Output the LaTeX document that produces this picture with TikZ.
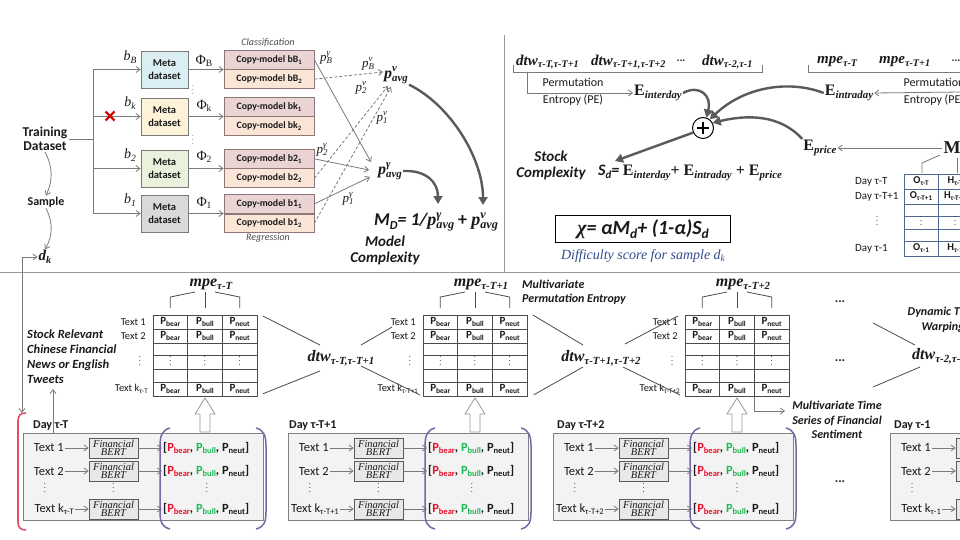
\documentclass[tikz,border=0pt]{standalone}
\usepackage{fontspec}
\setmainfont{Carlito}
\newfontfamily\tms{Liberation Serif}
\usetikzlibrary{arrows.meta,calc}
\makeatletter
\newcommand\SB[1]{\raisebox{-0.4ex}{\fontsize{\fpeval{0.68*\f@size}}{1}\selectfont #1}}
\newcommand\SP[1]{\raisebox{0.9ex}{\fontsize{\fpeval{0.68*\f@size}}{1}\selectfont #1}}
\makeatother
\newcommand\ssc[2]{\setbox0\hbox{\SP{#1}}\setbox2\hbox{\SB{#2}}\ifdim\wd0>\wd2 \rlap{\box2}\box0\else\rlap{\box0}\box2\fi}
\newcommand\fs[1]{\fontsize{#1}{#1}\selectfont}
\newcommand\vd{\raisebox{0pt}[0.8em][0pt]{$\vdots$}}
\definecolor{lnc}{HTML}{7A7A7A}
\definecolor{sepc}{HTML}{999999}
\definecolor{thkc}{HTML}{5A5A5A}
\definecolor{colMB}{HTML}{DAEEF3}
\definecolor{colMK}{HTML}{FEF2D8}
\definecolor{colMtwo}{HTML}{EAF1DD}
\definecolor{colMone}{HTML}{D9D9D9}
\definecolor{cmt}{HTML}{E9D3D3}
\definecolor{cmbf}{HTML}{FBE5D7}
\definecolor{cmd}{HTML}{8F7777}
\definecolor{pred}{HTML}{E8102A}
\definecolor{pgrn}{HTML}{1DB954}
\definecolor{purc}{HTML}{7767A8}
\definecolor{dblue}{HTML}{2F4C8C}
\definecolor{tblc}{HTML}{4E6A8E}
\definecolor{redx}{HTML}{D10A0A}
\definecolor{redb}{HTML}{E0506A}
\definecolor{dayf}{HTML}{F3F3F3}
\definecolor{bertf}{HTML}{E8E8E8}
\definecolor{txtc}{HTML}{1A1A1A}
\begin{document}
\begin{tikzpicture}[x=1pt,y=-1pt,
  every node/.style={text=txtc, inner sep=1pt},
  ln/.style={draw=lnc,line width=0.8pt},
  arr/.style={ln,-{Straight Barb[length=4pt,width=6pt]}},
  darr/.style={arr,dash pattern=on 3pt off 2pt},
  tharr/.style={draw=thkc,line width=2.4pt,-{Triangle[length=8pt,width=9pt]}},
  sepl/.style={draw=sepc,line width=1pt},
  meta/.style={draw=lnc,line width=0.8pt,minimum width=47pt,minimum height=37pt,align=center,font=\fontsize{10.5}{12.5}\selectfont\bfseries},
  cmbox/.style={draw=cmd,line width=0.8pt,minimum width=90pt,minimum height=18.5pt,inner sep=0pt,font=\fs{9.8}\bfseries},
  lbl/.style={font=\fs{14}\tms\itshape},
  phi/.style={font=\fs{14}\tms},
  plab/.style={font=\fs{13}\tms\itshape},
  pavg/.style={font=\fs{16}\tms\bfseries\itshape},
  serb/.style={font=\fs{16}\tms\bfseries\itshape},
  serbs/.style={font=\fs{15}\tms\bfseries\itshape},
  ebold/.style={font=\fs{16}\tms\bfseries},
  bi/.style={font=\fontsize{12}{14.5}\selectfont\bfseries\itshape,align=center},
  matl/.style={draw=black!70,line width=0.8pt},
  tbl/.style={draw=tblc,line width=0.8pt},
  pcell/.style={font=\fs{11}\bfseries},
  ocell/.style={font=\fs{10.5}\bfseries},
  rlab/.style={font=\fs{10.5}},
  dlab/.style={font=\fs{11}},
  vdot/.style={font=\fs{8}, inner sep=0pt},
  hollow/.style={draw=black!40,fill=white,line width=0.8pt},
  daybox/.style={draw=black!50,fill=dayf,line width=1pt,minimum width=240pt,minimum height=87pt,inner sep=0pt},
  bert/.style={draw=black!65,fill=bertf,line width=0.8pt,minimum width=49pt,minimum height=20pt,inner sep=0pt,align=center,font=\fontsize{10.5}{8.5}\selectfont\tms\itshape},
  dtxt/.style={font=\fs{12.5}},
  ptxt/.style={font=\fs{12.5}\bfseries},
  parc/.style={draw=purc,line width=1.5pt},
]
\useasboundingbox (0,0) rectangle (960,540);
\fill[white] (0,0) rectangle (960,540);
\begin{scope}
\clip (0,0) rectangle (960,540);
% separators
\draw[sepl] (504,35) -- (504,272);
\draw[sepl] (0,272) -- (960,272);

% ---------------- top left: model complexity
\node[font=\fontsize{13.5}{14.5}\selectfont\bfseries, align=center] (train) at (45,139) {Training\\Dataset};
\coordinate (trunk) at (93,139);
\draw[ln] (train.east) -- (trunk);
\draw[ln] (93,69.5) -- (93,213.5);
\node[meta, fill=colMB] (metaB) at (164.5,69.5) {Meta\\dataset};
\node[meta, fill=colMK] (metaK) at (164.5,116.5) {Meta\\dataset};
\node[meta, fill=colMtwo] (metaT) at (164.5,168.5) {Meta\\dataset};
\node[meta, fill=colMone] (metaO) at (164.5,213.5) {Meta\\dataset};
\coordinate (jB) at (93,69.5);
\coordinate (jK) at (93,116.5);
\coordinate (jT) at (93,168.5);
\coordinate (jO) at (93,213.5);
\draw[arr] (jB) -- (metaB);
\draw[arr] (jK) -- (metaK);
\draw[arr] (jT) -- (metaT);
\draw[arr] (jO) -- (metaO);
\draw[redx, line width=2.2pt] (105.5,111.5) -- (114.5,120.5) (105.5,120.5) -- (114.5,111.5);
\node[lbl] (lbB) at (130,57) {b\SB{B}};
\node[lbl] (lbK) at (130,103) {b\SB{k}};
\node[lbl] (lbT) at (130,155) {b\SB{2}};
\node[lbl] (lbO) at (130,200) {b\SB{1}};
\node[phi] (phB) at (204,61) {Φ\SB{B}};
\node[phi] (phK) at (204,106) {Φ\SB{k}};
\node[phi] (phT) at (204,157) {Φ\SB{2}};
\node[phi] (phO) at (204,203) {Φ\SB{1}};
\node[vdot, text=lnc] (vdA) at (193,91) {\vd};
\node[vdot, text=lnc] (vdB) at (193,141) {\vd};

\node[cmbox, fill=cmt, anchor=south] (cB1) at (269,69.5) {Copy-model bB\SB{1}};
\node[cmbox, fill=cmbf, anchor=north] (cB2) at (269,69.5) {Copy-model bB\SB{2}};
\node[cmbox, fill=cmt, anchor=south] (cK1) at (269,116.5) {Copy-model bk\SB{1}};
\node[cmbox, fill=cmbf, anchor=north] (cK2) at (269,116.5) {Copy-model bk\SB{2}};
\node[cmbox, fill=cmt, anchor=south] (cT1) at (269,168.5) {Copy-model b2\SB{1}};
\node[cmbox, fill=cmbf, anchor=north] (cT2) at (269,168.5) {Copy-model b2\SB{2}};
\node[cmbox, fill=cmt, anchor=south] (cO1) at (269,213.5) {Copy-model b1\SB{1}};
\node[cmbox, fill=cmbf, anchor=north] (cO2) at (269,213.5) {Copy-model b1\SB{2}};
\draw[arr] (metaB.east) -- (cB1.south west);
\draw[arr] (metaK.east) -- (cK1.south west);
\draw[arr] (metaT.east) -- (cT1.south west);
\draw[arr] (metaO.east) -- (cO1.south west);
\node[font=\fs{10}\itshape, text=black!70] (cls) at (268,43) {Classification};
\node[font=\fs{10}\itshape, text=black!70] (reg) at (268,238) {Regression};

\node[pavg] (pv) at (396,75) {p\ssc{v}{avg}};
\node[pavg] (pgam) at (390,171) {p\ssc{γ}{avg}};
\coordinate (pvA) at (383,72);
\coordinate (pvB) at (388,86);
\coordinate (pvC) at (391,87);
\coordinate (pgA) at (371,162);
\coordinate (pgB) at (369,170);
\coordinate (pgC) at (370,177);
\draw[arr] (cB1.east) -- (pgA);
\draw[arr] (cT1.east) -- (pgB);
\draw[arr] (cO1.east) -- (pgC);
\draw[darr] (cB2.east) -- (pvA);
\draw[darr] (cT2.east) -- (pvB);
\draw[darr] (cO2.east) -- (pvC);
\node[plab] (lpBg) at (326,58) {p\ssc{γ}{B}};
\node[plab] (lpBv) at (368,64) {p\ssc{v}{B}};
\node[plab] (lp2v) at (361,88) {p\ssc{v}{2}};
\node[plab] (lp1v) at (382,118) {p\ssc{v}{1}};
\node[plab] (lp2g) at (322,150) {p\ssc{γ}{2}};
\node[plab] (lp1g) at (348,199) {p\ssc{γ}{1}};

\node (MD) at (436,222) {\fs{18}{\bfseries\itshape M\SB{D}= 1/}{\tms\bfseries\itshape p\ssc{γ}{avg}} {\bfseries +} {\tms\bfseries\itshape p\ssc{v}{avg}}};
\coordinate (mdA) at (483,205);
\coordinate (mdB) at (438,204);
\draw[tharr] (pv.south east) .. controls (452,106) and (483,160) .. (mdA);
\draw[tharr] (pgam.east) .. controls (426,170) and (438,182) .. (mdB);
\node[font=\fontsize{15}{16}\selectfont\bfseries\itshape, align=center] (mc) at (385,250) {Model\\Complexity};

% ---------------- top right: stock complexity
\node[serbs, anchor=west] (dtwA) at (515,62) {dtw\SB{τ-T,τ-T+1}};
\node[serbs, anchor=west] (dtwB) at (590,62) {dtw\SB{τ-T+1,τ-T+2}};
\node[font=\fs{11}\bfseries] (dtdots) at (681,61) {...};
\node[serbs, anchor=west] (dtwC) at (701,62) {dtw\SB{τ-2,τ-1}};
\draw[ln] (513,65) -- (513,72) -- (762,72) -- (762,65);
\coordinate (brA) at (527,72);
\node[ebold] (Eint) at (658,93) {E\SB{\itshape interday}};
\draw[arr] (brA) |- (Eint.west);
\node[font=\fontsize{12}{17}\selectfont, align=center] (peA) at (573,91.5) {Permutation\\Entropy (PE)};
\node[circle, draw=black, line width=1pt, minimum size=21pt, inner sep=0pt] (plus) at (703,128) {};
\draw[line width=2.4pt] ($(plus.center)+(-6,0)$) -- ($(plus.center)+(6,0)$);
\draw[line width=2.4pt] ($(plus.center)+(0,-6)$) -- ($(plus.center)+(0,6)$);
\node[ebold] (Eintra) at (849,93) {E\SB{\itshape intraday}};
\node[ebold] (Eprice) at (820,148) {E\SB{\itshape price}};
\draw[tharr] (Eint.east) .. controls (700,84) and (712,96) .. (plus.72);
\draw[tharr] (Eintra.west) .. controls (790,80) and (745,86) .. (plus.52);
\draw[tharr] (Eprice.north west) .. controls (785,120) and (758,112) .. (plus.28);
\node[font=\fontsize{15}{16}\selectfont\bfseries\itshape, align=center] (sc) at (551,165) {Stock\\Complexity};
\node[anchor=west] (sdf) at (597,173) {\fs{16}{\bfseries\itshape S\SB{d}=} {\tms\bfseries E\SB{\itshape interday}+ E\SB{\itshape intraday} + E\SB{\itshape price}}};
\coordinate (sdtip) at (615,161);
\draw[tharr] (plus.205) -- (sdtip);
\node[draw=black, line width=1.6pt, inner sep=2pt, minimum width=175pt, minimum height=27pt, font=\fs{20}\bfseries\itshape] (chi) at (643,229) {{\tms χ}= αM\SB{d}+ (1-α)S\SB{d}};
\node[font=\fs{14}\tms\itshape, text=dblue] (diff) at (643,256) {Difficulty score for sample d\SB{k}};

\node[serbs, anchor=west] (mpeA) at (816,62) {mpe\SB{τ-T}};
\node[serbs, anchor=west] (mpeB) at (878,62) {mpe\SB{τ-T+1}};
\node[font=\fs{11}\bfseries] (mpdots) at (956,61) {...};
\draw[ln] (808,65) -- (808,72) -- (962,72);
\coordinate (peR) at (962,92);
\draw[arr] (peR) -- (Eintra.east);
\node[font=\fontsize{12}{17}\selectfont, align=center] (peB) at (934,91.5) {Permutation\\Entropy (PE)};
\node[font=\fs{18}\tms\bfseries] (Mn) at (952,148) {M};
\draw[arr] (Mn.west) -- (Eprice.east);
\draw[ln] (940,155) -- (922,163) -- (922,173);
\draw[ln] (957,158) -- (957,173);
\draw[tbl] (904,174) rectangle (1010,256);
\foreach \yy in {189,204,216,229,241} {\draw[tbl] (904,\yy) -- (1010,\yy);}
\draw[tbl] (938,174) -- (938,256);
\draw[tbl] (972,174) -- (972,256);
\node[ocell] (o1) at (921,181.5) {O\SB{τ-T}};
\node[ocell] (h1) at (955,181.5) {H\SB{τ-T}};
\node[ocell] (o2) at (921,196.5) {O\SB{τ-T+1}};
\node[ocell] (h2) at (955,196.5) {H\SB{τ-T+1}};
\node[vdot] (o3) at (921,222.5) {\vd};
\node[vdot] (h3) at (955,222.5) {\vd};
\node[ocell] (o4) at (921,248.5) {O\SB{τ-1}};
\node[ocell] (h4) at (955,248.5) {H\SB{τ-1}};
\node[dlab, anchor=west] (dr1) at (854,182) {Day τ-T};
\node[dlab, anchor=west] (dr2) at (854,196.5) {Day τ-T+1};
\node[vdot] (dr3) at (877,222.5) {\vd};
\node[dlab, anchor=west] (dr4) at (854,248.5) {Day τ-1};

% ---------------- bottom: matrices
\foreach \i/\L/\s in {1/153/τ-T, 2/423/τ-T+1, 3/685/τ-T+2} {
  \node[matl, minimum width=104pt, minimum height=81pt, anchor=north west, inner sep=0pt] (mat\i) at (\L,315) {};
  \foreach \yy in {329.5,343,355,369,382} {\draw[matl] (\L,\yy) -- ++(104,0);}
  \draw[matl] (\L+34.67,315) -- ++(0,81);
  \draw[matl] (\L+69.33,315) -- ++(0,81);
  \foreach \yy [count=\r] in {322.3,336.3,389} {
    \node[pcell] (ca\i-\r) at (\L+17.33,\yy) {P\SB{bear}};
    \node[pcell] (cb\i-\r) at (\L+52,\yy) {P\SB{bull}};
    \node[pcell] (cc\i-\r) at (\L+86.67,\yy) {P\SB{neut}};
  }
  \node[vdot] (va\i) at (\L+17.33,362) {\vd};
  \node[vdot] (vb\i) at (\L+52,362) {\vd};
  \node[vdot] (vc\i) at (\L+86.67,362) {\vd};
  \node[rlab, anchor=east] (ra\i) at (\L-6,322.3) {Text 1};
  \node[rlab, anchor=east] (rb\i) at (\L-6,336.3) {Text 2};
  \node[vdot] (rc\i) at (\L-13,362) {\vd};
  \node[rlab, anchor=east] (rd\i) at (\L-4,389) {Text k\SB{\s}};
  \node[serb] (mpe\i) at (\L+58,284) {mpe\SB{\s}};
  \draw[matl] (\L+42,292) -- (\L+17.33,297) -- (\L+17.33,308);
  \draw[matl] (\L+52,292) -- (\L+52,308);
  \draw[matl] (\L+62,292) -- (\L+86.67,297) -- (\L+86.67,308);
  \draw[hollow] (\L+52,398) -- (\L+62,414) -- (\L+57,414) -- (\L+57,432) -- (\L+47,432) -- (\L+47,414) -- (\L+42,414) -- cycle;
}
\node[serb] (dtw1) at (341,358) {dtw\SB{τ-T,τ-T+1}};
\node[serb] (dtw2) at (601,358) {dtw\SB{τ-T+1,τ-T+2}};
\node[serb, anchor=west] (dtw3) at (911,356) {dtw\SB{τ-2,τ-1}};
\coordinate (dAa) at (320,345);
\coordinate (dAb) at (320,371);
\coordinate (dAc) at (361,345);
\coordinate (dAd) at (361,366);
\coordinate (dBa) at (583,345);
\coordinate (dBb) at (583,367);
\coordinate (dBc) at (625,344);
\coordinate (dBd) at (623,367);
\draw[matl] ($(mat1.north east)+(5,1)$) -- (dAa);
\draw[matl] ($(mat1.south east)+(5,-3)$) -- (dAb);
\draw[matl] (dAc) -- (392,327);
\draw[matl] (dAd) -- (420,395);
\draw[matl] ($(mat2.north east)+(5,0)$) -- (dBa);
\draw[matl] ($(mat2.south east)+(6,-2)$) -- (dBb);
\draw[matl] (dBc) -- (678,316);
\draw[matl] (dBd) -- (680,395);
\draw[matl] (873,323) -- ($(dtw3.west)+(4,-11)$);
\draw[matl] (873,387) -- ($(dtw3.west)+(9,11)$);
\node[font=\fontsize{12}{14}\selectfont\bfseries\itshape, anchor=west, align=left] (mpelab) at (521,292) {Multivariate\\Permutation Entropy};
\node[bi] (dtwlab) at (943,320) {Dynamic Time\\Warping};
\node[font=\fs{13}\bfseries] (dots1) at (840,302) {...};
\node[font=\fs{13}\bfseries] (dots2) at (840,361) {...};
\node[font=\fs{13}\bfseries] (dots3) at (840,482) {...};
\node[bi] (mts) at (837,420) {Multivariate Time\\Series of Financial\\Sentiment};
\coordinate (mtsA) at (754,397);
\coordinate (mtsB) at (785,411);
\draw[arr] (mtsA) |- (mtsB);
\node[font=\fontsize{12.5}{15}\selectfont\bfseries\itshape, anchor=north west, align=left] (srel) at (26,329) {Stock Relevant\\Chinese Financial\\News or English\\Tweets};
\coordinate (srA) at (53,443);
\coordinate (srB) at (53,389);
\draw[arr] (srA) -- (srB);
\node[font=\fs{12}\bfseries] (sample) at (46,202) {Sample};
\node[font=\fs{15}\tms\bfseries\itshape] (dk) at (45,257) {d\SB{k}};
\draw[arr] (train.south) .. controls (53,167) and (53,180) .. (sample.north);
\draw[arr] (sample.south) .. controls (53,222) and (53,236) .. (dk.north);
\coordinate (dkB) at (22,413);
\draw[ln,{Straight Barb[length=4pt,width=6pt]}-{Straight Barb[length=4pt,width=6pt]}] (dkB) |- (dk.west);

% ---------------- bottom: days
\foreach \i/\L/\s/\dx in {1/23/τ-T/9, 2/288/τ-T+1/0, 3/553/τ-T+2/3, 4/890/τ-1/3} {
  \node[daybox, anchor=north west] (day\i) at (\L,433) {};
  \node[anchor=west, font=\fs{12}\bfseries] (dl\i) at (\L+\dx,426) {Day \s};
  \node[dtxt, anchor=east] (ta\i) at (\L+42,448) {Text 1};
  \node[dtxt, anchor=east] (tb\i) at (\L+42,471) {Text 2};
  \node[vdot] (tv\i) at (\L+22,489) {\vd};
  \node[dtxt, anchor=east] (tk\i) at (\L+52,509) {Text k\SB{\s}};
  \node[bert] (ba\i) at (\L+90.5,448) {Financial\\BERT};
  \node[bert] (bb\i) at (\L+90.5,471) {Financial\\BERT};
  \node[vdot] (bv\i) at (\L+90.5,489) {\vd};
  \node[bert] (bk\i) at (\L+90.5,509) {Financial\\BERT};
  \draw[arr] (ta\i) -- (ba\i);
  \draw[arr] (tb\i) -- (bb\i);
  \draw[arr] (tk\i) -- (bk\i);
  \node[ptxt, anchor=west] (pa\i) at (\L+139,448) {[\textcolor{pred}{P\SB{bear}}, \textcolor{pgrn}{P\SB{bull}}, P\SB{neut}]};
  \node[ptxt, anchor=west] (pb\i) at (\L+139,471) {[\textcolor{pred}{P\SB{bear}}, \textcolor{pgrn}{P\SB{bull}}, P\SB{neut}]};
  \node[vdot] (pv\i) at (\L+184,489) {\vd};
  \node[ptxt, anchor=west] (pk\i) at (\L+139,509) {[\textcolor{pred}{P\SB{bear}}, \textcolor{pgrn}{P\SB{bull}}, P\SB{neut}]};
  \draw[arr] (ba\i) -- (pa\i);
  \draw[arr] (bb\i) -- (pb\i);
  \draw[arr] (bk\i) -- (pk\i);
  \draw[parc] (\L+147,428) .. controls (\L+139,430) and (\L+137,436) .. (\L+137,446) -- (\L+137,512) .. controls (\L+137,522) and (\L+139,527) .. (\L+147,529);
  \draw[parc] (\L+233,428) .. controls (\L+241,430) and (\L+243,436) .. (\L+243,446) -- (\L+243,512) .. controls (\L+243,522) and (\L+241,527) .. (\L+233,529);
}
\draw[redb, line width=1.6pt] (26,413) .. controls (20,413) and (18,416) .. (18,421) -- (18,522) .. controls (18,527) and (20,530) .. (26,530);
\end{scope}
\end{tikzpicture}
\end{document}
